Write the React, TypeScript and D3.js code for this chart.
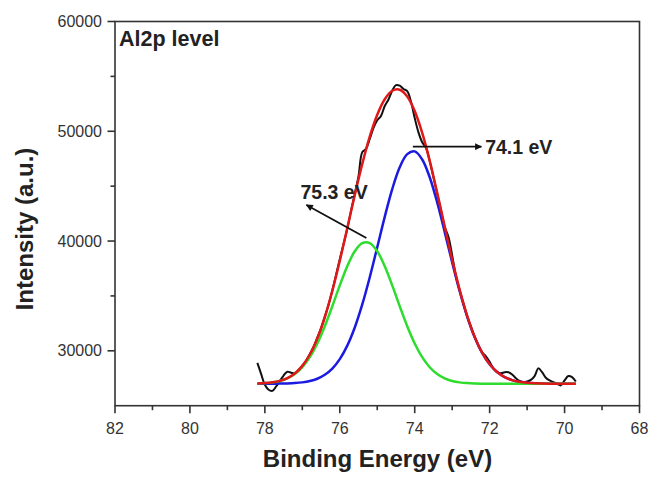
import React from "react";
import * as d3 from "d3";

// Binding energy grid for the fitted curves (eV)
const fitEnergy = [78.2, 78.0, 77.8, 77.6, 77.4, 77.2, 77.0, 76.8, 76.6, 76.4, 76.2, 76.0, 75.8, 75.6, 75.4, 75.2, 75.0, 74.8, 74.6, 74.4, 74.2, 74.0, 73.8, 73.6, 73.4, 73.2, 73.0, 72.8, 72.6, 72.4, 72.2, 72.0, 71.8, 71.6, 71.4, 71.2, 71.0, 70.8, 70.6, 70.4, 70.2, 70.0, 69.8, 69.7];

// Fitted component at 74.1 eV (blue)
const peak741 = [27001, 27002, 27005, 27012, 27028, 27060, 27124, 27243, 27455, 27812, 28382, 29243, 30473, 32128, 34225, 36705, 39440, 42207, 44732, 46720, 47920, 48169, 47432, 45811, 43517, 40835, 38054, 35423, 33123, 31244, 29807, 28771, 28065, 27611, 27335, 27175, 27087, 27041, 27019, 27008, 27003, 27001, 27000, 27000];

// Fitted component at 75.3 eV (green)
const peak753 = [27025, 27057, 27124, 27252, 27486, 27881, 28504, 29421, 30671, 32246, 34063, 35960, 37711, 39065, 39805, 39805, 39065, 37711, 35960, 34063, 32246, 30671, 29421, 28504, 27881, 27486, 27252, 27124, 27057, 27025, 27010, 27004, 27001, 27000, 27000, 27000, 27000, 27000, 27000, 27000, 27000, 27000, 27000, 27000];

// Cumulative fit (red)
const fitSum = [27026, 27059, 27129, 27264, 27514, 27941, 28628, 29664, 31126, 33058, 35445, 38203, 41184, 44193, 47030, 49510, 51505, 52918, 53692, 53783, 53166, 51840, 49853, 47315, 44398, 41321, 38306, 35547, 33180, 31269, 29817, 28775, 28066, 27611, 27335, 27175, 27087, 27041, 27019, 27008, 27003, 27001, 27000, 27000];

// Raw spectrum (black)
const rawEnergy = [78.2, 78.1, 78.0, 77.9, 77.8, 77.7, 77.6, 77.5, 77.4, 77.3, 77.2, 77.1, 77.0, 76.9, 76.8, 76.7, 76.6, 76.5, 76.4, 76.3, 76.2, 76.1, 76.0, 75.9, 75.8, 75.7, 75.6, 75.5, 75.4, 75.3, 75.2, 75.1, 75.0, 74.9, 74.8, 74.7, 74.6, 74.5, 74.4, 74.3, 74.2, 74.1, 74.0, 73.9, 73.8, 73.7, 73.6, 73.5, 73.4, 73.3, 73.2, 73.1, 73.0, 72.9, 72.8, 72.7, 72.6, 72.5, 72.4, 72.3, 72.2, 72.1, 72.0, 71.9, 71.8, 71.7, 71.6, 71.5, 71.4, 71.3, 71.2, 71.1, 71.0, 70.9, 70.8, 70.7, 70.6, 70.5, 70.4, 70.3, 70.2, 70.1, 70.0, 69.9, 69.8, 69.7];
const rawIntensity = [28900, 27900, 26900, 26450, 26350, 26750, 27250, 27750, 28100, 28000, 27950, 28250, 28650, 29100, 29700, 30350, 31200, 32050, 33100, 34200, 35500, 36900, 38350, 39700, 41100, 42750, 44300, 45900, 48100, 48400, 49300, 50300, 51000, 51400, 52300, 52900, 53700, 54200, 54150, 53850, 53650, 52700, 51200, 49900, 49000, 48500, 47300, 45800, 44300, 42800, 41300, 40400, 38700, 36800, 35500, 34300, 33150, 32200, 31300, 30500, 29850, 29500, 29000, 28400, 28050, 27950, 28050, 28050, 27850, 27500, 27250, 27150, 27200, 27350, 27700, 28400, 28050, 27550, 27300, 27150, 27000, 26850, 27300, 27700, 27600, 27200];

const xMajor = [82, 80, 78, 76, 74, 72, 70, 68];
const xMinor = [81, 79, 77, 75, 73, 71, 69];
const yMajor = [30000, 40000, 50000, 60000];
const yMinor = [35000, 45000, 55000];

const FONT = "'Liberation Sans', Arial, Helvetica, sans-serif";

export default function App() {
  const W = 649, H = 478;
  const left = 115, right = 639.5, top = 21.5, bottom = 405.7;
  const x = d3.scaleLinear().domain([82, 68]).range([left, right]);
  const y = d3.scaleLinear().domain([25000, 60000]).range([bottom, top]);

  const fitLine = d3
    .line<[number, number]>()
    .x((d) => x(d[0]))
    .y((d) => y(d[1]))
    .curve(d3.curveCatmullRom);

  const rawLine = d3
    .line<[number, number]>()
    .x((d) => x(d[0]))
    .y((d) => y(d[1]))
    .curve(d3.curveCatmullRom);

  const zip = (xs: number[], ys: number[]) => xs.map((v, i) => [v, ys[i]] as [number, number]);

  const axisColor = "#333";

  return (
    <svg width={W} height={H} style={{ position: "absolute", left: 0, top: 0, background: "#fff" }}>
      <defs>
        <marker id="ah" viewBox="0 0 10 10" refX="9" refY="5" markerWidth="10" markerHeight="7" markerUnits="userSpaceOnUse" orient="auto">
          <path d="M0,0 L10,5 L0,10 z" fill="#111" />
        </marker>
      </defs>
      <rect x={0} y={0} width={W} height={H} fill="#fff" />

      {/* curves */}
      <path d={rawLine(zip(rawEnergy, rawIntensity)) || ""} fill="none" stroke="#111" strokeWidth={2} />
      <path d={fitLine(zip(fitEnergy, peak741)) || ""} fill="none" stroke="#1a1ae0" strokeWidth={2.5} />
      <path d={fitLine(zip(fitEnergy, peak753)) || ""} fill="none" stroke="#2edc2e" strokeWidth={2.5} />
      <path d={fitLine(zip(fitEnergy, fitSum)) || ""} fill="none" stroke="#e01818" strokeWidth={2.5} />

      {/* frame */}
      <rect x={left} y={top} width={right - left} height={bottom - top} fill="none" stroke={axisColor} strokeWidth={1.6} />

      {/* x ticks */}
      {xMajor.map((v) => (
        <g key={"xM" + v}>
          <line x1={x(v)} x2={x(v)} y1={bottom} y2={bottom + 7.5} stroke={axisColor} strokeWidth={1.6} />
          <text x={x(v)} y={433.5} textAnchor="middle" fontFamily={FONT} fontSize={16} fill="#333">
            {v}
          </text>
        </g>
      ))}
      {xMinor.map((v) => (
        <line key={"xm" + v} x1={x(v)} x2={x(v)} y1={bottom} y2={bottom + 4.5} stroke={axisColor} strokeWidth={1.6} />
      ))}

      {/* y ticks */}
      {yMajor.map((v) => (
        <g key={"yM" + v}>
          <line x1={left - 7.5} x2={left} y1={y(v)} y2={y(v)} stroke={axisColor} strokeWidth={1.6} />
          <text x={102} y={y(v)} dy="0.35em" textAnchor="end" fontFamily={FONT} fontSize={16} fill="#333">
            {v}
          </text>
        </g>
      ))}
      {yMinor.map((v) => (
        <line key={"ym" + v} x1={left - 4.5} x2={left} y1={y(v)} y2={y(v)} stroke={axisColor} strokeWidth={1.6} />
      ))}

      {/* axis titles */}
      <text x={377.5} y={467} textAnchor="middle" fontFamily={FONT} fontWeight="bold" fontSize={24} fill="#222">
        Binding Energy (eV)
      </text>
      <text
        transform={`translate(33,229) rotate(-90)`}
        textAnchor="middle"
        fontFamily={FONT}
        fontWeight="bold"
        fontSize={24}
        fill="#222"
      >
        Intensity (a.u.)
      </text>

      {/* panel label */}
      <text x={119} y={46} fontFamily={FONT} fontWeight="bold" fontSize={21.5} fill="#222">
        Al2p level
      </text>

      {/* annotations */}
      <line x1={x(74.05)} y1={y(48600)} x2={x(72.22)} y2={y(48600)} stroke="#111" strokeWidth={1.8} markerEnd="url(#ah)" />
      <text x={x(72.12)} y={y(48600)} dy="0.36em" fontFamily={FONT} fontWeight="bold" fontSize={19.5} fill="#222">
        74.1 eV
      </text>
      <line x1={x(75.29)} y1={y(40280)} x2={x(76.89)} y2={y(43290)} stroke="#111" strokeWidth={1.8} markerEnd="url(#ah)" />
      <text x={x(77.05)} y={198.5} fontFamily={FONT} fontWeight="bold" fontSize={19.5} fill="#222">
        75.3 eV
      </text>
    </svg>
  );
}
